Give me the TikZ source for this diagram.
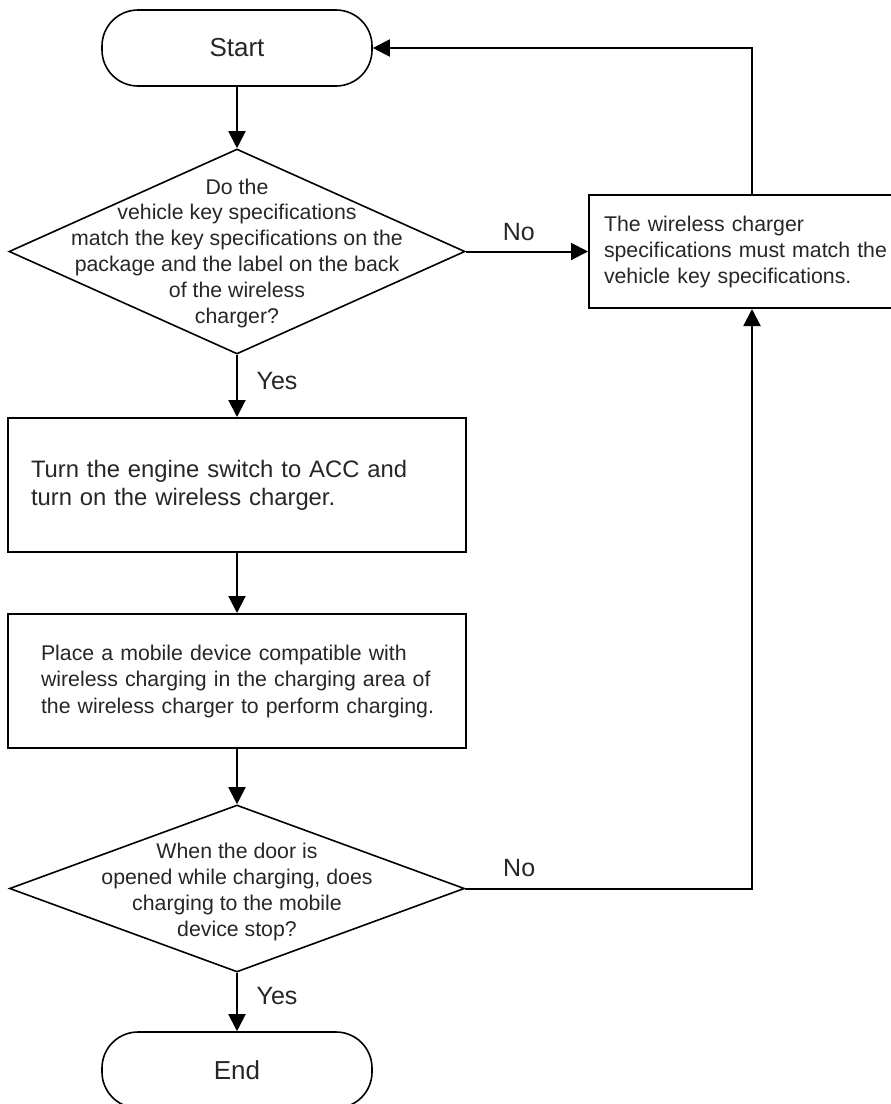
\documentclass[tikz,border=0pt]{standalone}
\usepackage{fontspec}
\setmainfont{Liberation Sans}
\usetikzlibrary{shapes.geometric,arrows.meta}
\definecolor{txt}{RGB}{38,38,38}
\begin{document}
\begin{tikzpicture}[x=1pt,y=-1pt,
  every node/.style={text=txt},
  term/.style={draw=black,line width=1.6pt,rectangle,rounded corners=36pt,
    minimum width=270pt,minimum height=76pt,inner sep=0pt,
    font=\fontsize{26}{30}\selectfont},
  dec/.style={draw=black,line width=1.6pt,diamond,inner sep=0pt},
  dtext/.style={align=center,inner sep=0pt,font=\fontsize{21.3}{25.8}\selectfont},
  procbox/.style={draw=black,line width=2pt,rectangle,align=left,inner ysep=0pt},
  arr/.style={draw=black,line width=2pt,-{Triangle[length=17pt,width=17pt]}},
  lab/.style={font=\fontsize{25}{30}\selectfont,inner sep=0pt}
]
\useasboundingbox (0,0) rectangle (891,1104);
\clip (0,0) rectangle (891,1104);

\node[term] (start) at (237,48) {Start};

\node[dec,minimum width=456pt,minimum height=205pt] (d1) at (237,251.5) {};
\node[dtext] (d1t) at (237,253) {Do the\\vehicle key specifications\\match the key specifications on the\\package and the label on the back\\of the wireless\\charger?};

\node[procbox,text width=412pt,inner xsep=23pt,minimum height=134pt,
  font=\fontsize{23.8}{28}\selectfont] (b1) at (237,485)
  {Turn the engine switch to ACC and\\turn on the wireless charger.};

\node[procbox,text width=392pt,inner xsep=33pt,minimum height=134pt,
  font=\fontsize{21.3}{26.5}\selectfont] (b2) at (237,681)
  {\mbox{Place a mobile device compatible with}\\\mbox{wireless charging in the charging area of}\\\mbox{the wireless charger to perform charging.}};

\node[dec,minimum width=455pt,minimum height=167pt] (d2) at (237,888.5) {};
\node[dtext,font=\fontsize{21.3}{25.8}\selectfont] (d2t) at (237,892)
  {When the door is\\opened while charging, does\\charging to the mobile\\device stop?};

\node[term] (end) at (237,1070) {End};

\node[procbox,anchor=west,text width=290pt,inner xsep=15pt,minimum height=113pt,
  font=\fontsize{21.3}{26}\selectfont] (rb) at (588,251.5)
  {The wireless charger\\specifications must match the\\vehicle key specifications.};

\coordinate (xl) at (752,0);

\draw[arr] (start.south) -- (d1.north);
\draw[arr] (d1.south) -- node[lab,midway,xshift=40pt,yshift=5pt] {Yes} (b1.north);
\draw[arr] (b1.south) -- (b2.north);
\draw[arr] (b2.south) -- (d2.north);
\draw[arr] (d2.south) -- node[lab,midway,xshift=40pt,yshift=6pt] {Yes} (end.north);
\draw[arr] (d1.east) -- node[lab,midway,xshift=-8pt,yshift=19pt] {No} (rb.west);
\draw[arr] (rb.north -| xl) |- (start.east);
\draw[arr] (d2.east) -| node[lab,pos=0.094,yshift=20pt] {No} (rb.south -| xl);
\end{tikzpicture}
\end{document}
